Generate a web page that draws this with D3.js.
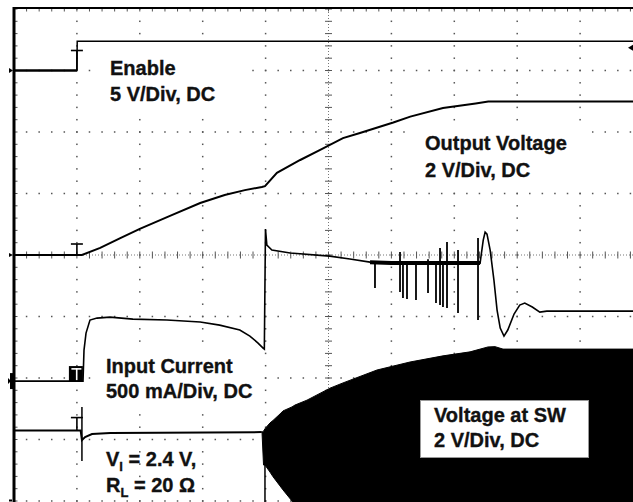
<!DOCTYPE html>
<html><head><meta charset="utf-8">
<script src="https://cdn.jsdelivr.net/npm/d3@7"></script>
<style>html,body{margin:0;padding:0;background:#fff;} svg{display:block;}</style>
</head><body><svg id="c" width="633" height="502"></svg>
<script>
// ---------------- DATA ----------------
const timeDivisions = d3.range(0, 11);      // 10 horizontal divisions
const voltDivisions = d3.range(-4, 5);      // 8 vertical divisions
const minorPerDiv = 5;
const triggerTime = 1.0;

// channel ground position (divisions from centre) and scale per division
const channelGroundDiv = { enable: 3.0, output: 0.0, current: -2.05, sw: -4.0 };
const channelPerDiv    = { enable: 5,   output: 2,   current: 500,   sw: 2 }; // V, V, mA, V

// Enable (V)
const enableTime  = [0, 1.0, 1.005, 10];
const enableVolts = [0, 0, 2.38, 2.38];

// Output voltage (V)
const outputTime  = [0, 1.05, 1.08, 1.37, 1.69, 2.0, 2.48, 2.96, 3.35, 3.67, 3.94, 3.99, 4.18, 4.55, 4.86, 5.23, 5.50, 6.03, 6.30, 6.82, 7.34, 7.54, 10];
const outputVolts = [0, 0, 0, 0.23, 0.55, 0.85, 1.27, 1.69, 1.95, 2.11, 2.21, 2.24, 2.67, 3.09, 3.41, 3.80, 3.97, 4.31, 4.50, 4.78, 4.93, 4.99, 4.99];

// Input current (mA)
const currentTime = [0, 1.097, 1.113, 1.145, 1.208, 1.32, 1.526, 1.89, 2.43, 2.96, 3.27, 3.59, 3.75, 3.88, 3.96, 3.98, 3.998, 4.02, 4.10, 4.39, 5.02, 5.34, 5.66, 6.0, 7.41, 7.46, 7.49, 7.52, 7.57, 7.63, 7.68, 7.73, 7.79, 7.85, 7.95, 8.04, 8.12, 8.24, 8.36, 8.47, 10];
const currentMA   = [0, 0, 252, 390, 496, 512, 520, 504, 496, 480, 455, 415, 366, 309, 268, 260, 1236, 1106, 1065, 1041, 1016, 992, 967, 959, 959, 1146, 1211, 1195, 1065, 821, 577, 431, 366, 415, 545, 618, 634, 602, 561, 569, 569];
// switching spikes on the input current (mA)
const currentSpikeTime = [5.739, 6.137, 6.184, 6.248, 6.391, 6.582, 6.709, 6.773, 6.820, 6.884, 7.059, 7.377];
const currentSpikeLow  = [757, 724, 676, 668, 659, 716, 635, 619, 602, 594, 554, 497];
const currentSpikeHigh = [975, 1050, 975, 975, 975, 990, 975, 1082, 975, 1131, 1066, 1163];
const currentNoiseFrom = 5.66, currentNoiseTo = 7.41;

// Voltage at SW (V): DC part before switching
const swTime  = [0, 1.06, 1.08, 1.13, 1.24, 1.53, 3.94];
const swVolts = [2.29, 2.29, 1.98, 2.08, 2.18, 2.21, 2.24];
// switching envelope
const swEnvTime = [3.943, 3.967, 3.990, 4.070, 4.118, 4.229, 4.277, 4.420, 4.467, 4.658, 5.024, 5.231, 5.771, 6.296, 6.820, 7.250, 7.536, 7.647, 7.774, 10];
const swEnvHigh = [2.24, 2.27, 2.35, 2.54, 2.62, 2.83, 2.93, 3.06, 3.12, 3.28, 3.67, 3.84, 4.26, 4.52, 4.72, 4.85, 5.01, 5.02, 4.94, 4.94];
const swEnvLow  = [2.24, 1.17, 1.17, 0.94, 0.79, 0.49, 0.36, 0.0, -0.3, -0.3, -0.3, -0.3, -0.3, -0.3, -0.3, -0.3, -0.3, -0.3, -0.3, -0.3];
const swSpikeTime = [1.08, 3.99];
const swSpikeLow  = [1.30, -0.2];
const swSpikeHigh = [3.06, 1.17];

// annotation texts
const labelEnable  = ["Enable", "5 V/Div, DC"];
const labelOutput  = ["Output Voltage", "2 V/Div, DC"];
const labelCurrent = ["Input Current", "500 mA/Div, DC"];
const labelSW      = ["Voltage at SW", "2 V/Div, DC"];

// ---------------- LAYOUT ----------------
const W = 633, H = 502;
const x = d3.scaleLinear().domain([0, 10]).range([14, 643]);
const y = d3.scaleLinear().domain([-4, 4]).range([501, 9]);
const yc = ch => v => y(channelGroundDiv[ch] + v / channelPerDiv[ch]);
const yEn = yc("enable"), yOut = yc("output"), yCur = yc("current"), ySw = yc("sw");

const svg = d3.select("#c");
svg.append("rect").attr("width", W).attr("height", H).attr("fill", "#fff");
svg.append("defs").append("clipPath").attr("id", "plot")
  .append("rect").attr("x", 14).attr("y", 8).attr("width", W - 14).attr("height", H - 8);

const grid = svg.append("g");
const minorT = d3.range(0, 10 * minorPerDiv + 1).map(k => k / minorPerDiv);
const minorV = d3.range(-4 * minorPerDiv, 4 * minorPerDiv + 1).map(k => k / minorPerDiv);

// dotted gridlines
timeDivisions.filter(t => t > 0 && t !== 5).forEach(t => {
  grid.selectAll(null).data(minorV).enter().append("rect")
    .attr("x", x(t) - 0.75).attr("y", d => y(d) - 0.75).attr("width", 1.5).attr("height", 1.5).attr("fill", "#555");
});
voltDivisions.filter(v => v < 4 && v !== 0).forEach(v => {
  grid.selectAll(null).data(minorT).enter().append("rect")
    .attr("x", d => x(d) - 0.75).attr("y", y(v) - 0.75).attr("width", 1.5).attr("height", 1.5).attr("fill", "#555");
});
// centre axes with ticks
grid.append("line").attr("x1", x(5)).attr("x2", x(5)).attr("y1", y(4)).attr("y2", H)
  .attr("stroke", "#777").attr("stroke-width", 1).attr("stroke-dasharray", "1,2");
grid.append("line").attr("x1", x(0)).attr("x2", W).attr("y1", y(0)).attr("y2", y(0))
  .attr("stroke", "#777").attr("stroke-width", 1).attr("stroke-dasharray", "1,2");
grid.selectAll(null).data(minorV).enter().append("line")
  .attr("x1", x(5) - 3.5).attr("x2", x(5) + 3.5).attr("y1", d => y(d)).attr("y2", d => y(d))
  .attr("stroke", "#555").attr("stroke-width", 1);
grid.selectAll(null).data(minorT).enter().append("line")
  .attr("y1", y(0) - 3.5).attr("y2", y(0) + 3.5).attr("x1", d => x(d)).attr("x2", d => x(d))
  .attr("stroke", "#555").attr("stroke-width", 1);
// border ticks
grid.selectAll(null).data(minorT).enter().append("line")
  .attr("x1", d => x(d)).attr("x2", d => x(d)).attr("y1", 8).attr("y2", 11.5)
  .attr("stroke", "#555").attr("stroke-width", 1);
grid.selectAll(null).data(minorV).enter().append("line")
  .attr("y1", d => y(d)).attr("y2", d => y(d)).attr("x1", 14).attr("x2", 17.5)
  .attr("stroke", "#555").attr("stroke-width", 1);
// borders
grid.append("line").attr("x1", 13).attr("x2", W).attr("y1", 8).attr("y2", 8).attr("stroke", "#000").attr("stroke-width", 2);
grid.append("line").attr("x1", 14).attr("x2", 14).attr("y1", 7).attr("y2", H).attr("stroke", "#000").attr("stroke-width", 3);

// white label backgrounds
const bg = svg.append("g").attr("fill", "#fff");
bg.append("rect").attr("x", 93).attr("y", 44).attr("width", 157).attr("height", 66);
bg.append("rect").attr("x", 408).attr("y", 122).attr("width", 184).attr("height", 62);
bg.append("rect").attr("x", 95).attr("y", 350).attr("width", 165).attr("height", 54);

// ---------------- TRACES ----------------
const tr = svg.append("g").attr("clip-path", "url(#plot)");
const zip = (ts, vs) => ts.map((t, i) => [t, vs[i]]);

// Enable
const en = zip(enableTime, enableVolts);
tr.append("path").datum(en.slice(0, 2))
  .attr("d", d3.line().x(d => x(d[0])).y(d => yEn(d[1])))
  .attr("fill", "none").attr("stroke", "#000").attr("stroke-width", 2.5);
tr.append("path").datum(en.slice(1))
  .attr("d", d3.line().x(d => x(d[0])).y(d => yEn(d[1])))
  .attr("fill", "none").attr("stroke", "#000").attr("stroke-width", 1.5);

// Output voltage
tr.append("path").datum(zip(outputTime, outputVolts))
  .attr("d", d3.line().x(d => x(d[0])).y(d => yOut(d[1])))
  .attr("fill", "none").attr("stroke", "#000").attr("stroke-width", 2);

// Voltage at SW
const swEnv = swEnvTime.map((t, i) => ({ t, hi: swEnvHigh[i], lo: swEnvLow[i] }));
tr.append("path").datum(swEnv)
  .attr("d", d3.area().x(d => x(d.t)).y0(d => ySw(d.lo)).y1(d => ySw(d.hi)))
  .attr("fill", "#000").attr("stroke", "#000").attr("stroke-width", 1);
tr.append("path").datum(zip(swTime, swVolts))
  .attr("d", d3.line().x(d => x(d[0])).y(d => ySw(d[1])))
  .attr("fill", "none").attr("stroke", "#000").attr("stroke-width", 2);
tr.selectAll(null).data(swSpikeTime).enter().append("line")
  .attr("x1", d => x(d)).attr("x2", d => x(d))
  .attr("y1", (d, i) => ySw(swSpikeLow[i])).attr("y2", (d, i) => ySw(swSpikeHigh[i]))
  .attr("stroke", "#000").attr("stroke-width", 1.5);

// Input current
const cur = zip(currentTime, currentMA);
tr.append("path").datum(cur)
  .attr("d", d3.line().x(d => x(d[0])).y(d => yCur(d[1])))
  .attr("fill", "none").attr("stroke", "#000").attr("stroke-width", 1.6);
tr.append("path").datum(cur.filter(d => d[0] >= currentNoiseFrom && d[0] <= currentNoiseTo))
  .attr("d", d3.line().x(d => x(d[0])).y(d => yCur(d[1])))
  .attr("fill", "none").attr("stroke", "#000").attr("stroke-width", 4);
tr.selectAll(null).data(currentSpikeTime).enter().append("line")
  .attr("x1", d => x(d)).attr("x2", d => x(d))
  .attr("y1", (d, i) => yCur(currentSpikeLow[i])).attr("y2", (d, i) => yCur(currentSpikeHigh[i]))
  .attr("stroke", "#000").attr("stroke-width", 1.8);

// ---------------- MARKERS ----------------
const mk = svg.append("g");
const tx = x(triggerTime);
// trigger "T" markers (placed at each trace level at trigger time)
[[yEn(enableVolts[0]), 20], [yOut(outputVolts[0]), 11], [ySw(swVolts[0]), 13]].forEach(([g0, h]) => {
  mk.append("line").attr("x1", tx - 6).attr("x2", tx + 6).attr("y1", g0 - h).attr("y2", g0 - h).attr("stroke", "#000").attr("stroke-width", 1.6);
  mk.append("line").attr("x1", tx).attr("x2", tx).attr("y1", g0 - h).attr("y2", g0).attr("stroke", "#000").attr("stroke-width", 1.6);
});
{
  const g0 = yCur(0);
  mk.append("rect").attr("x", tx - 8).attr("y", g0 - 15).attr("width", 14).attr("height", 15).attr("fill", "#000");
  mk.append("rect").attr("x", tx - 5.5).attr("y", g0 - 13).attr("width", 10).attr("height", 1.6).attr("fill", "#fff");
  mk.append("rect").attr("x", tx - 1).attr("y", g0 - 13).attr("width", 1.6).attr("height", 12).attr("fill", "#fff");
}
// ground markers on left
mk.append("path").attr("d", `M9,${yEn(0) - 2.5}L13,${yEn(0)}L9,${yEn(0) + 2.5}Z`).attr("fill", "#000");
mk.append("path").attr("d", `M9,${yOut(0) - 2}L13,${yOut(0)}L9,${yOut(0) + 2}Z`).attr("fill", "#000");
mk.append("rect").attr("x", 10).attr("y", yCur(0) - 8).attr("width", 4).attr("height", 16).attr("fill", "#000");
mk.append("path").attr("d", `M8,${yCur(0) - 3}L11,${yCur(0)}L8,${yCur(0) + 3}Z`).attr("fill", "#000");
mk.append("rect").attr("x", 9).attr("y", ySw(0) - 1.5).attr("width", 3).attr("height", 2).attr("fill", "#000");
// trigger level marker on right
mk.append("path").attr("d", `M628,${yEn(1.85)}L633,${yEn(1.85) - 3}L633,${yEn(1.85) + 3}Z`).attr("fill", "#000");

// ---------------- TEXT ----------------
const FONT = "'Liberation Sans', Arial, Helvetica, sans-serif";
const txt = svg.append("g").attr("font-family", FONT)
  .attr("font-weight", "bold").attr("font-size", 20).attr("fill", "#111")
  .attr("stroke", "#111").attr("stroke-width", 0.35);
function twoLines(lines, x0, y0, gap) {
  lines.forEach((s, i) => txt.append("text").attr("x", x0).attr("y", y0 + i * gap).text(s));
}
twoLines(labelEnable, 110, 75, 26);
twoLines(labelOutput, 425, 150, 27);
twoLines(labelCurrent, 106, 373, 25);

// SW boxed label
svg.append("rect").attr("x", 420.5).attr("y", 400.5).attr("width", 168).attr("height", 57)
  .attr("fill", "#fff").attr("stroke", "#999").attr("stroke-width", 1);
svg.append("g").attr("font-family", FONT)
  .attr("font-weight", "bold").attr("font-size", 20).attr("fill", "#111")
  .attr("stroke", "#111").attr("stroke-width", 0.35)
  .selectAll("text").data(labelSW).enter().append("text")
  .attr("x", 434).attr("y", (d, i) => 422 + i * 24.5).text(d => d);

// conditions with subscripts
const c1 = txt.append("text").attr("x", 106).attr("y", 466);
c1.append("tspan").text("V");
c1.append("tspan").attr("font-size", 13).attr("dy", 5).text("I");
c1.append("tspan").attr("dy", -5).text(" = 2.4 V,");
const c2 = txt.append("text").attr("x", 106).attr("y", 492);
c2.append("tspan").text("R");
c2.append("tspan").attr("font-size", 13).attr("dy", 5).text("L");
c2.append("tspan").attr("dy", -5).text(" = 20 Ω");
</script></body></html>
